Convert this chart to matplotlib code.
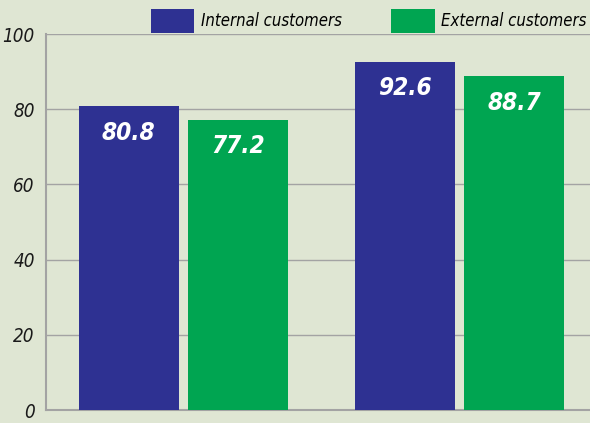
import matplotlib.pyplot as plt
import numpy as np

# data
groups = ["Group 1", "Group 2"]
internal = [80.8, 92.6]
external = [77.2, 88.7]
series_names = ["Internal customers", "External customers"]
yticks = [0, 20, 40, 60, 80, 100]

bg = '#dfe6d3'
blue = '#2e3192'
green = '#00a551'
fam = ['DejaVu Sans']

fig = plt.figure(figsize=(5.9, 4.23), dpi=100, facecolor=bg)
ax = fig.add_axes([46/590, 13/423, 1 - 46/590, (410-34)/423])
ax.set_facecolor(bg)

x = np.arange(len(groups))
w = 0.362
off = 0.1985
b1 = ax.bar(x - off, internal, width=w, color=blue, zorder=3, label=series_names[0])
b2 = ax.bar(x + off, external, width=w, color=green, zorder=3, label=series_names[1])

for bars, vals in [(b1, internal), (b2, external)]:
    for r, v in zip(bars, vals):
        ax.annotate(f"{v:.1f}", (r.get_x() + r.get_width()/2, v), xytext=(0, -19),
                    textcoords='offset points', ha='center', va='center',
                    color='white', fontsize=17.5, fontweight='bold', fontstyle='italic',
                    fontstretch='condensed', family=fam, zorder=4)

ax.set_xlim(-0.498, 1.473)
ax.set_ylim(0, 100)
ax.set_yticks(yticks)
ax.set_xticks([])
ax.grid(axis='y', color='#a3a3a3', linewidth=1.0, zorder=1)
for s in ['top', 'right']:
    ax.spines[s].set_visible(False)
ax.spines['left'].set_color('#a3a3a3')
ax.spines['bottom'].set_color('#a3a3a3')
ax.spines['left'].set_linewidth(1.5)
ax.spines['bottom'].set_linewidth(1.5)
ax.tick_params(axis='y', length=0, pad=8)
for t in ax.get_yticklabels():
    t.set_family(fam)
    t.set_fontstyle('italic')
    t.set_fontstretch('condensed')
    t.set_fontsize(13.5)
    t.set_color('#1a1a1a')

leg = fig.legend(handles=[b1, b2], loc='upper right', bbox_to_anchor=(596/590, 1.0),
                 ncol=2, frameon=False, handlelength=2.6, handleheight=1.8,
                 columnspacing=3.0, handletextpad=0.4, borderaxespad=0.15,
                 prop={'family': fam, 'style': 'italic', 'stretch': 'condensed', 'size': 12})

fig.savefig('out.png', dpi=100, facecolor=bg)
